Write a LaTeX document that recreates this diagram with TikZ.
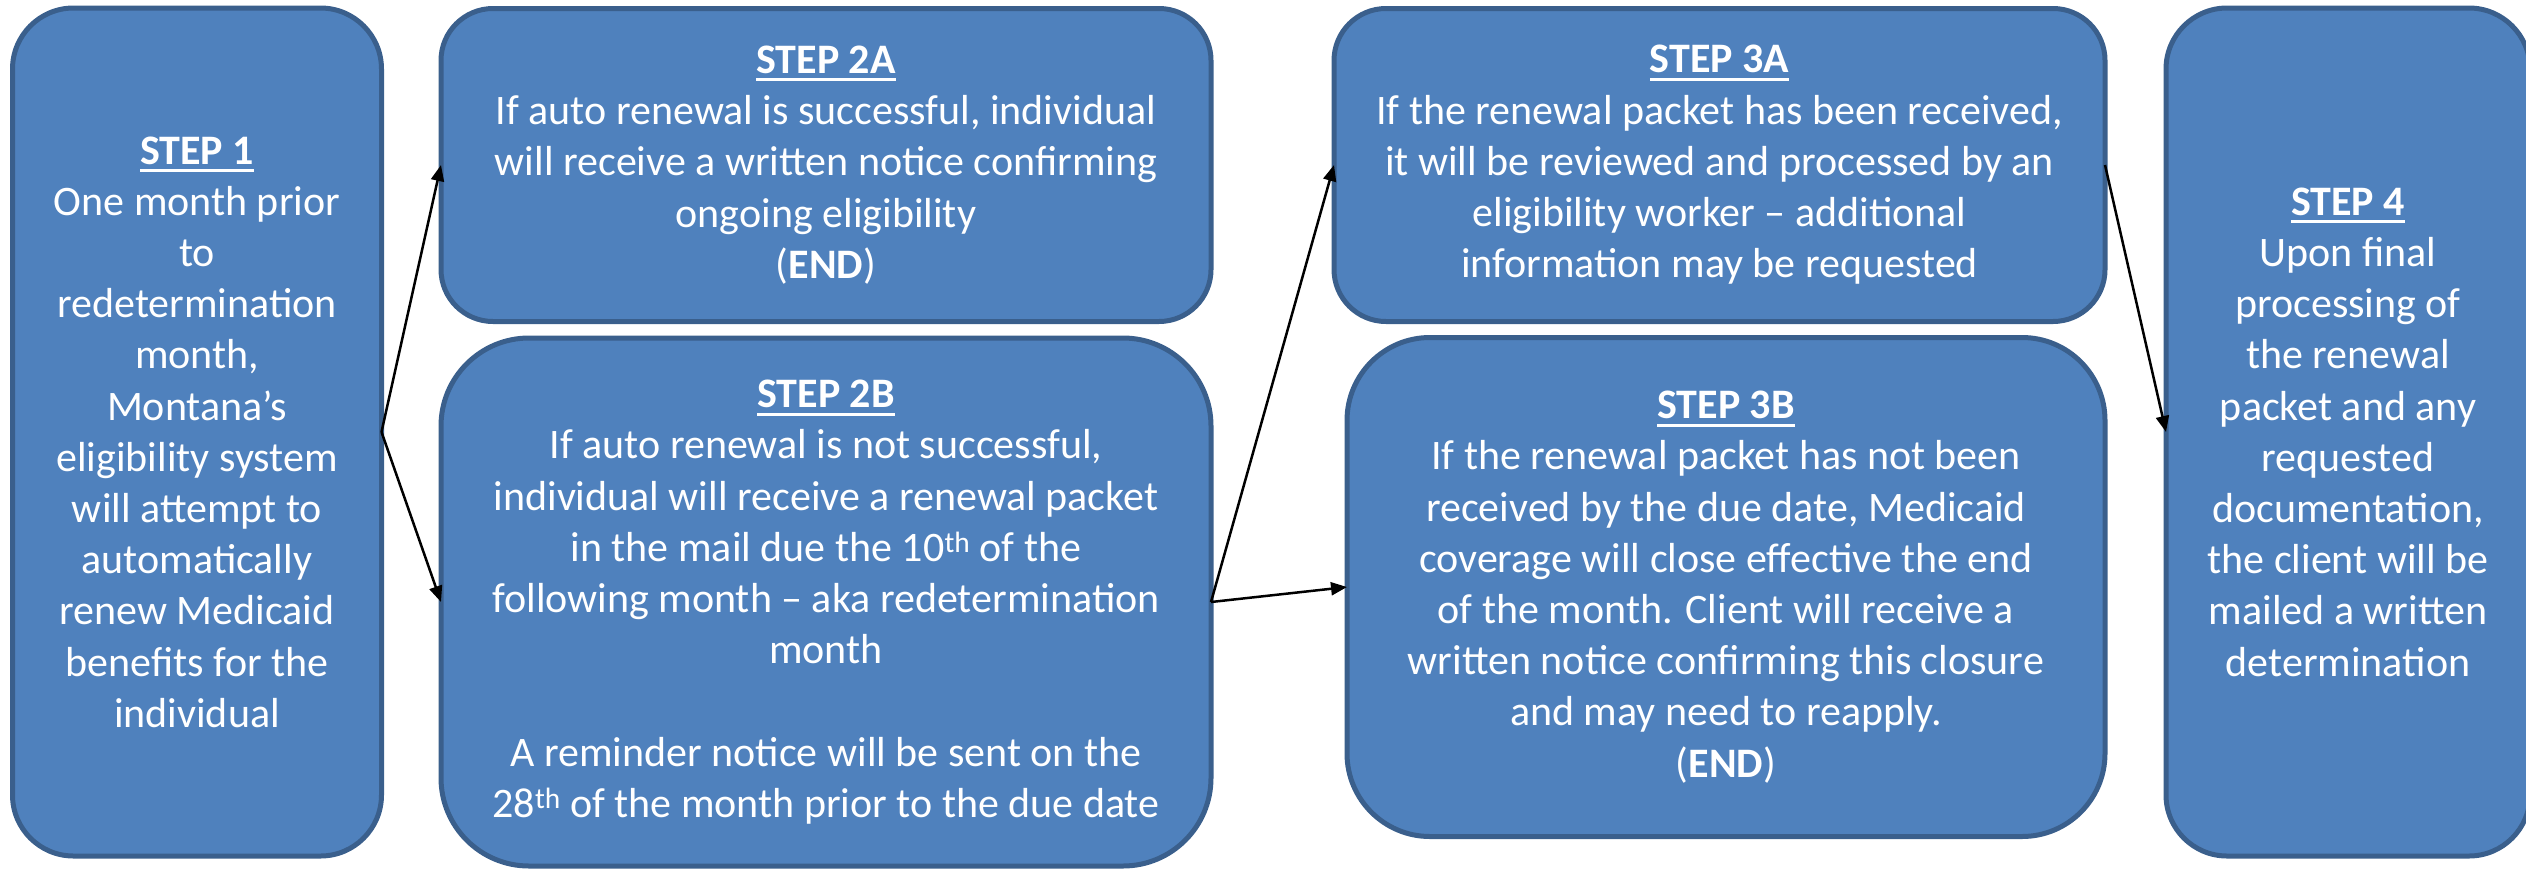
\documentclass[tikz,border=0pt]{standalone}
\usepackage{fontspec}
\setmainfont{Carlito}
\usetikzlibrary{arrows.meta}
\definecolor{boxfill}{HTML}{4F81BD}
\definecolor{boxline}{HTML}{3A5F8C}
\newcommand{\stephead}[1]{\setbox0\hbox{\bfseries #1}\rlap{\rule[-8pt]{\wd0}{3pt}}\box0}
\begin{document}
\begin{tikzpicture}[x=1pt,y=-1pt,
  stepbox/.style={draw=boxline, line width=5pt, fill=boxfill, text=white, align=center,
    inner sep=0pt, outer sep=0pt, font=\fontsize{42}{51.2}\selectfont},
  conn/.style={-{Triangle[length=16pt,width=13pt]}, line width=2.5pt, black}]
\useasboundingbox (0,0) rectangle (2526,871);
\clip (0,0) rectangle (2526,871);
\node[stepbox, rounded corners=61pt, minimum width=369pt, minimum height=848pt] (s1) at (197,432)
  {\stephead{STEP 1}\\One month prior\\to\\redetermination\\month,\\Montana’s\\eligibility system\\will attempt to\\automatically\\renew Medicaid\\benefits for the\\individual};
\node[stepbox, rounded corners=52pt, minimum width=770pt, minimum height=313pt] (s2a) at (826,165)
  {\stephead{STEP 2A}\\If auto renewal is successful, individual\\will receive a written notice confirming\\ongoing eligibility\\(\textbf{END})};
\node[stepbox, rounded corners=88pt, minimum width=770pt, minimum height=528pt] (s2b) at (826,602)
  {\stephead{STEP 2B}\\If auto renewal is not successful,\\individual will receive a renewal packet\\in the mail due the 10\textsuperscript{th} of the\\following month – aka redetermination\\month\\[51.2pt]A reminder notice will be sent on the\\28\textsuperscript{th} of the month prior to the due date};
\node[stepbox, rounded corners=52pt, minimum width=771pt, minimum height=313pt] (s3a) at (1719.5,165)
  {\stephead{STEP 3A}\\If the renewal packet has been received,\\it will be reviewed and processed by an\\eligibility worker – additional\\information may be requested};
\node[stepbox, rounded corners=83pt, minimum width=758pt, minimum height=499pt] (s3b) at (1726,587)
  {\stephead{STEP 3B}\\If the renewal packet has not been\\received by the due date, Medicaid\\coverage will close effective the end\\of the month. Client will receive a\\written notice confirming this closure\\and may need to reapply.\\(\textbf{END})};
\node[stepbox, rounded corners=61pt, minimum width=364pt, minimum height=848pt] (s4) at (2348,432)
  {\stephead{STEP 4}\\Upon final\\processing of\\the renewal\\packet and any\\requested\\documentation,\\the client will be\\mailed a written\\determination};
\draw[conn] (s1.east) -- (s2a.west);
\draw[conn] (s1.east) -- (s2b.west);
\draw[conn] (s2b.east) -- (s3a.west);
\draw[conn] (s2b.east) -- (s3b.west);
\draw[conn] (s3a.east) -- (s4.west);
\end{tikzpicture}
\end{document}
